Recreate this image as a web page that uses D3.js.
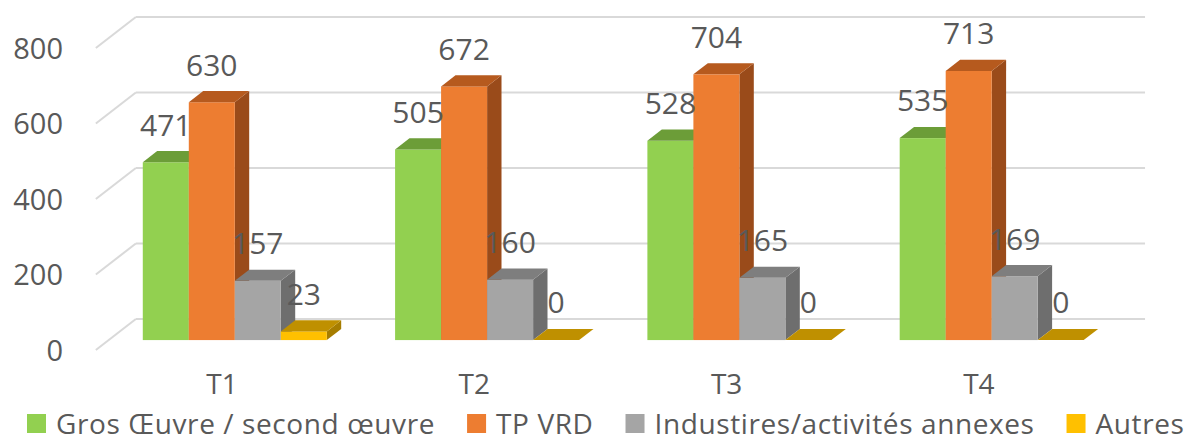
<!DOCTYPE html>
<html>
<head>
<meta charset="utf-8">
<script src="https://cdn.jsdelivr.net/npm/d3@7"></script>
<style>
  body { margin: 0; background: #fff; }
  text { font-family: "Open Sans", sans-serif; fill: #595959; }
</style>
</head>
<body>
<svg id="chart" width="1190" height="443"></svg>
<script>
// ====================================================================
// data
var categories = ["T1", "T2", "T3", "T4"];
var series_names = ["Gros Œuvre / second œuvre", "TP VRD", "Industires/activités annexes", "Autres"];
var gros_oeuvre = [471, 505, 528, 535];
var tp_vrd = [630, 672, 704, 713];
var industries = [157, 160, 165, 169];
var autres = [23, 0, 0, 0];
var y_ticks = [0, 200, 400, 600, 800];
// ====================================================================

// colours: front, top, side
var colors = [
  {front: "#92D050", top: "#6C9D38", side: "#5E8A30"},
  {front: "#ED7D31", top: "#B65A1E", side: "#9A4B1A"},
  {front: "#A5A5A5", top: "#7E7E7E", side: "#6E6E6E"},
  {front: "#FFC000", top: "#BF9000", side: "#A67D00"}
];
var series_values = [gros_oeuvre, tp_vrd, industries, autres];

// 3d depth offsets of the back wall, and bar depth range
var depth_x = 40, depth_y = -31;
var z0 = 0.32, z1 = 0.68;

var svg = d3.select("#chart");

var y = d3.scaleLinear().domain([0, 800]).range([350, 48]);

var x_cat = d3.scaleBand()
  .domain(categories)
  .range([95.85, 1105.05])
  .padding(0);

var x_ser = d3.scaleBand()
  .domain(d3.range(series_names.length))
  .range([0, x_cat.bandwidth()])
  .paddingInner(0)
  .paddingOuter(0.742);

function px(x, z) { return x + depth_x * z; }
function py(v, z) { return y(v) + depth_y * z; }

// ====================================================================
// gridlines: side wall diagonal + back wall
var grid = svg.append("g").attr("id", "grid")
  .style("stroke", "#D9D9D9").style("stroke-width", 2).style("fill", "none");

var x_left = x_cat.range()[0], x_right = x_cat.range()[1];

grid.selectAll(".diag").data(y_ticks).enter().append("line")
  .attr("x1", px(x_left, 0)).attr("y1", function(d) { return py(d, 0); })
  .attr("x2", px(x_left, 1)).attr("y2", function(d) { return py(d, 1); });

grid.selectAll(".back").data(y_ticks).enter().append("line")
  .attr("x1", px(x_left, 1)).attr("y1", function(d) { return py(d, 1); })
  .attr("x2", px(x_right, 1)).attr("y2", function(d) { return py(d, 1); });

// y axis labels
var y_axis = svg.append("g")
  .attr("transform", "translate(63,0)")
  .call(d3.axisLeft(y).tickValues(y_ticks).tickSize(0).tickPadding(0));
y_axis.select(".domain").remove();
y_axis.selectAll("text")
  .style("font-family", "Open Sans")
  .style("font-size", "29px")
  .style("fill", "#595959")
  .attr("dy", "0.35em");

// ====================================================================
// bars
var bar_data = [];
categories.forEach(function(c, ci) {
  series_values.forEach(function(vals, si) {
    bar_data.push({cat: c, s: si, value: vals[ci]});
  });
});

var w = x_ser.bandwidth();
function left(d) { return x_cat(d.cat) + x_ser(d.s); }

var bars = svg.append("g").attr("id", "bars")
  .selectAll("g").data(bar_data).enter().append("g");

bars.append("polygon")
  .attr("points", function(d) {
    var r = left(d) + w;
    return [[px(r, z0), py(d.value, z0)], [px(r, z1), py(d.value, z1)],
            [px(r, z1), py(0, z1)], [px(r, z0), py(0, z0)]].join(" ");
  })
  .style("fill", function(d) { return colors[d.s].side; });

bars.append("rect")
  .attr("x", function(d) { return px(left(d), z0); })
  .attr("y", function(d) { return py(d.value, z0); })
  .attr("width", w)
  .attr("height", function(d) { return py(0, z0) - py(d.value, z0); })
  .style("fill", function(d) { return colors[d.s].front; });

bars.append("polygon")
  .attr("points", function(d) {
    var l = left(d), r = l + w;
    return [[px(l, z0), py(d.value, z0)], [px(r, z0), py(d.value, z0)],
            [px(r, z1), py(d.value, z1)], [px(l, z1), py(d.value, z1)]].join(" ");
  })
  .style("fill", function(d) { return colors[d.s].top; });

// data labels
svg.append("g").attr("id", "labels")
  .selectAll("text").data(bar_data).enter().append("text")
  .attr("x", function(d) { return px(left(d), z0) + w / 2; })
  .attr("y", function(d) { return py(d.value, z1) - 26; })
  .attr("dy", "0.35em")
  .attr("text-anchor", "middle")
  .style("font-size", "30px")
  .text(function(d) { return d.value; });

// category labels
svg.append("g").attr("id", "x_labels")
  .selectAll("text").data(categories).enter().append("text")
  .attr("x", function(d) { return x_cat(d) + x_cat.bandwidth() / 2; })
  .attr("y", 394)
  .attr("text-anchor", "middle")
  .style("font-size", "28px")
  .text(function(d) { return d; });

// ====================================================================
// legend
var legend = svg.append("g").attr("id", "legend");
var lx = 27;
series_names.forEach(function(name, i) {
  legend.append("rect")
    .attr("x", lx).attr("y", 414)
    .attr("width", 19).attr("height", 19)
    .style("fill", colors[i].front);
  var t = legend.append("text")
    .attr("x", lx + 29).attr("y", 434)
    .style("font-size", "28px")
    .style("letter-spacing", "0.6px")
    .text(name);
  lx += 29 + t.node().getComputedTextLength() + 32;
});
</script>
</body>
</html>
